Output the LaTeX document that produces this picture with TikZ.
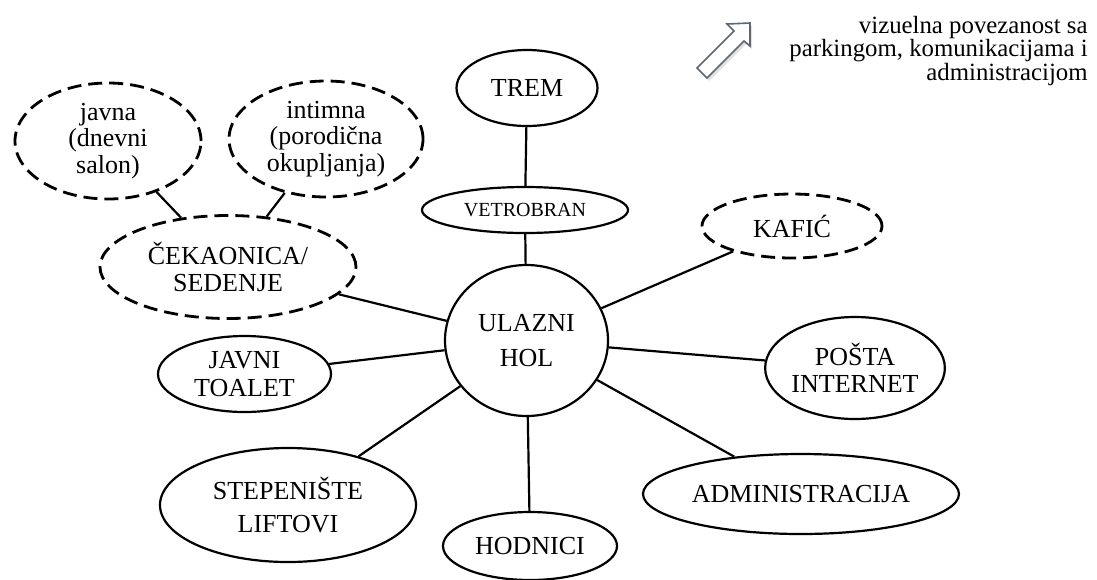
\documentclass[tikz,border=0pt]{standalone}
\usepackage{fontspec}
\setmainfont{Liberation Serif}
\usetikzlibrary{shapes.geometric}
\definecolor{arrowgray}{HTML}{5F6672}
\begin{document}
\begin{tikzpicture}[x=0.5pt,y=-0.5pt,
  bub/.style={ellipse, draw, line width=1.1pt, inner sep=0pt, align=center,
              font=\fontsize{13}{13.5}\selectfont},
  dashbub/.style={bub, line width=1.4pt, dash pattern=on 7pt off 3.5pt},
  link/.style={line width=1.1pt},
]
\useasboundingbox (0,0) rectangle (1097,579);

% central hall and the entrance axis
\node[bub, minimum width=81.5pt, minimum height=75.5pt,
      font=\fontsize{13}{17.5}\selectfont] (hol) at (526.5,340.5) {ULAZNI\\HOL};
\node[bub, minimum width=103pt, minimum height=23pt,
      font=\fontsize{10}{12}\selectfont] (vetrobran) at (525,210) {VETROBRAN};
\node[bub, minimum width=70.5pt, minimum height=38pt] (trem) at (527,88) {TREM};

% surrounding spaces
\node[dashbub, minimum width=90pt, minimum height=32pt] (kafic) at (792,226) {KAFIĆ};
\node[bub, minimum width=87pt, minimum height=51pt] (posta) at (855,368) {POŠTA\\INTERNET};
\node[bub, minimum width=158pt, minimum height=40pt] (admin) at (801,494) {ADMINISTRACIJA};
\node[bub, minimum width=87pt, minimum height=34pt] (hodnici) at (530,546) {HODNICI};
\node[bub, minimum width=128pt, minimum height=57pt,
      font=\fontsize{13}{16.5}\selectfont] (stepen) at (288,505) {STEPENIŠTE\\LIFTOVI};
\node[bub, minimum width=86.5pt, minimum height=38pt,
      font=\fontsize{13}{14}\selectfont] (toalet) at (244.5,374) {JAVNI\\TOALET};

% waiting area and its two kinds of seating
\node[dashbub, minimum width=128pt, minimum height=51.5pt] (cekaonica) at (228,267) {ČEKAONICA/\\SEDENJE};
\node[dashbub, minimum width=93pt, minimum height=58pt,
      font=\fontsize{13}{13.3}\selectfont] (javna) at (108,141) {javna\\(dnevni\\salon)};
\node[dashbub, minimum width=97pt, minimum height=58pt,
      font=\fontsize{13}{13.3}\selectfont] (intimna) at (326,139) {intimna\\(porodična\\okupljanja)};

% connectors
\draw[link] (trem) -- (vetrobran);
\draw[link] (vetrobran) -- (hol);
\foreach \n in {kafic,posta,admin,hodnici,stepen,toalet,cekaonica}
  \draw[link] (hol) -- (\n);
\draw[link] (javna) -- (cekaonica);
\draw[link] (intimna) -- (cekaonica);

% legend: hollow arrow with soft shadow
\coordinate (tip) at (750,23);
\fill[black!12] ([shift={(2,3)}]tip) -- ++(-23,1) -- ++(7,7) -- ++(-37,37)
   -- ++(10,10) -- ++(37,-37) -- ++(6,5) -- cycle;
\draw[arrowgray, line width=0.8pt, line join=miter, fill=white]
   (tip) -- ++(-23,1) -- ++(7,7) -- ++(-37,37)
   -- ++(10,10) -- ++(37,-37) -- ++(6,5) -- cycle;
\node[anchor=base east, align=right, inner sep=0pt,
      font=\fontsize{12.4}{11.75}\selectfont] (legend) at (1088,80)
  {vizuelna povezanost sa\\parkingom, komunikacijama i\\administracijom};
\end{tikzpicture}
\end{document}
